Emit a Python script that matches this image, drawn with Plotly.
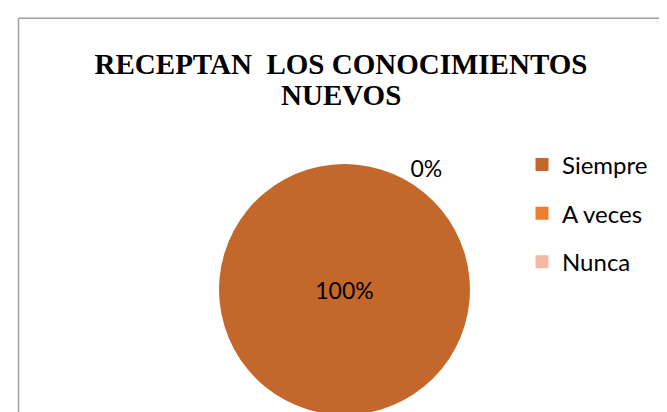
import plotly.graph_objects as go

# datos del grafico
etiquetas = ["Siempre", "A veces", "Nunca"]
valores = [100, 0, 0]
colores = ["#C4672A", "#ED7D31", "#F4B9A3"]

titulo_1 = "RECEPTAN\u00a0 LOS CONOCIMIENTOS"
titulo_2 = "NUEVOS"

W, H = 667, 412

fig = go.Figure()

# pastel (las dos etiquetas de 0% se superponen en Excel: se muestra una)
fig.add_trace(go.Pie(
    labels=etiquetas, values=valores, sort=False, direction="clockwise", rotation=28,
    marker=dict(colors=colores),
    texttemplate="%{percent:.0%}", textposition=["inside", "outside", "none"],
    textfont=dict(family="Lato", size=23, color="black"),
    domain=dict(x=[0.3095, 0.6995], y=[0, 0.6165]),
    showlegend=False, hoverinfo="label+percent",
))

# leyenda (una entrada por categoria para separar los items)
for lab, col in zip(etiquetas, colores):
    fig.add_trace(go.Scatter(
        x=[None], y=[None], mode="markers", name=lab, legendgroup=lab,
        marker=dict(symbol="square", size=13, color=col),
    ))

fig.update_layout(
    width=W, height=H,
    margin=dict(l=0, r=0, t=0, b=0),
    paper_bgcolor="white", plot_bgcolor="white",
    title=dict(text=titulo_1, x=333 / W, xanchor="center", y=1 - 56 / H, yanchor="middle",
               font=dict(family="Liberation Serif", size=29, color="black", weight="bold")),
    annotations=[dict(text=titulo_2, x=333 / W, y=1 - 88 / H, xref="paper", yref="paper",
                      xanchor="center", yanchor="middle", showarrow=False,
                      font=dict(family="Liberation Serif", size=29, color="black", weight="bold"))],
    legend=dict(x=514 / W, y=1 - 136 / H, xanchor="left", yanchor="top",
                traceorder="grouped", tracegroupgap=14.5,
                font=dict(family="Lato", size=24, color="black")),
    xaxis=dict(visible=False), yaxis=dict(visible=False),
    shapes=[
        dict(type="line", xref="paper", yref="paper", x0=10.5 / W, x1=10.5 / W, y0=0, y1=1 - 10.5 / H,
             line=dict(color="#A0A0A0", width=1.5)),
        dict(type="line", xref="paper", yref="paper", x0=10.5 / W, x1=1, y0=1 - 10.5 / H, y1=1 - 10.5 / H,
             line=dict(color="#A0A0A0", width=1.5)),
    ],
)

fig.write_html("out.html")
